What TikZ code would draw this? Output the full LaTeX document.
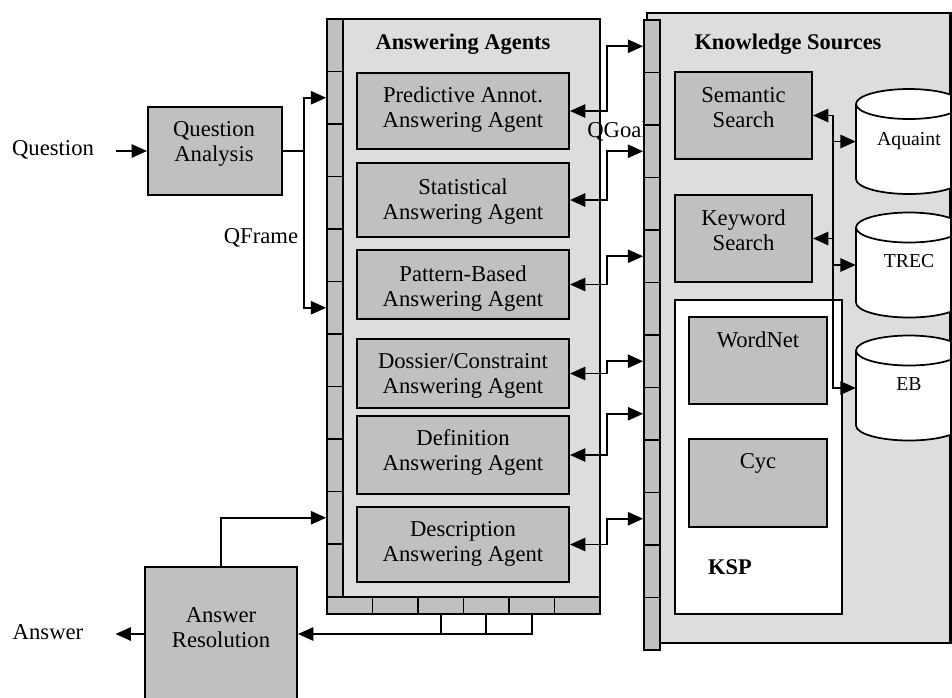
\documentclass[tikz,border=0pt]{standalone}
\usepackage{fontspec}
\setmainfont{Liberation Serif}
\usetikzlibrary{arrows.meta,fit}
\definecolor{panelgray}{HTML}{DDDDDD}
\definecolor{boxgray}{HTML}{C0C0C0}
\tikzset{
  tri/.tip={Triangle[length=11.5pt,width=10pt]},
  panel/.style={draw, line width=1.5pt, fill=panelgray, inner sep=0pt},
  box/.style={draw, line width=1.5pt, fill=boxgray, inner sep=0pt},
  cell/.style={draw, line width=1.3pt, fill=boxgray, inner sep=0pt},
  wbox/.style={draw, line width=1.5pt, fill=white, inner sep=0pt},
  txt/.style={inner sep=0pt, anchor=north, align=center},
  lbl/.style={inner sep=0pt, anchor=base},
  title/.style={inner sep=0pt, anchor=base, font=\fontsize{16.8}{18.75}\selectfont\bfseries},
  cyllbl/.style={inner sep=0pt, anchor=base, font=\fontsize{14.8}{17}\selectfont},
  cylnode/.style={inner sep=0pt, minimum width=79.5pt, minimum height=78.75pt},
  conn/.style={line width=1.3pt},
}
\newcommand\dbcyl[3]{%
  \begin{scope}[shift={(#1,#2)}, x=0.75pt, y=0.75pt]
    \filldraw[line width=1.3pt, fill=white] (-53,37.5) -- (-53,-37.5)
      arc[start angle=180, end angle=360, x radius=53, y radius=15]
      -- (53,37.5)
      arc[start angle=0, end angle=180, x radius=53, y radius=15] -- cycle;
    \draw[line width=1.3pt] (-53,37.5)
      arc[start angle=180, end angle=360, x radius=53, y radius=15];
  \end{scope}
  \node[cylnode] (#3) at (#1,#2) {};
}
\begin{document}
\begin{tikzpicture}[x=0.75pt, y=-0.75pt,
  every node/.style={font=\fontsize{17}{18.75}\selectfont}]
\useasboundingbox (0,0) rectangle (952,697);
\clip (0,0) rectangle (952,697);

% ---------- Answering Agents panel ----------
\node[panel, fit={(327,19) (600,614)}] (aa) {};
\foreach \i in {1,...,11}
  \node[cell, fit={(327,{19+52.5*(\i-1)}) (343,{19+52.5*\i})}] (aa\i) {};
\foreach \i in {1,...,6}
  \node[cell, fit={({327+45.5*(\i-1)},597) ({327+45.5*\i},614)}] (ab\i) {};
\node[title] (aat) at (463,49) {Answering Agents};

\node[box, fit={(357,73) (569,149)}] (pred) {};
\node[txt] (predt) at (463,87) {Predictive Annot.\\Answering Agent};
\node[box, fit={(357,163) (569,237)}] (stat) {};
\node[txt] (statt) at (463,178) {Statistical\\Answering Agent};
\node[box, fit={(357,250) (569,319)}] (pat) {};
\node[txt] (patt) at (463,265) {Pattern-Based\\Answering Agent};
\node[box, fit={(357,339) (569,408)}] (dos) {};
\node[txt] (dost) at (463,353) {Dossier/Constraint\\Answering Agent};
\node[box, fit={(357,416) (569,494)}] (def) {};
\node[txt] (deft) at (463,429) {Definition\\Answering Agent};
\node[box, fit={(357,507) (569,582)}] (desc) {};
\node[txt] (desct) at (463,521) {Description\\Answering Agent};

\node[inner sep=0pt, anchor=base west] (qgoal) at (587,137) {QGoal};

% ---------- Knowledge Sources panel ----------
\node[panel, fit={(647,13) (950,643)}] (ks) {};
\node[title] (kst) at (788,49) {Knowledge Sources};
\node[box, fit={(675,72) (812,159)}] (sem) {};
\node[txt] (semt) at (743.5,87) {Semantic\\Search};
\node[box, fit={(675,195) (812,282)}] (kw) {};
\node[txt] (kwt) at (743.5,209) {Keyword\\Search};
\node[wbox, fit={(675,300) (842,614)}] (ksp) {};
\node[box, fit={(689,317) (827,404)}] (wn) {};
\node[txt] (wnt) at (758,331) {WordNet};
\node[box, fit={(689,439) (827,527)}] (cyc) {};
\node[txt] (cyct) at (758,453) {Cyc};
\node[title] (kspt) at (730,574) {KSP};

\dbcyl{909}{141.5}{aq}
\node[cyllbl] (aqt) at (909,145) {Aquaint};
\dbcyl{909}{265}{trec}
\node[cyllbl] (trect) at (909,267) {TREC};
\dbcyl{909}{388}{eb}
\node[cyllbl] (ebt) at (909,390) {EB};
\draw[line width=1.5pt] (ks.north east) -- (ks.south east);

\foreach \i in {1,...,12}
  \node[cell, fit={(644,{20+52.5*(\i-1)}) (660,{20+52.5*\i})}] (ks\i) {};

% ---------- left side ----------
\node[lbl] (q) at (53,155) {Question};
\node[box, fit={(148,107) (282,195)}] (qa) {};
\node[txt] (qat) at (214,121) {Question\\Analysis};
\node[lbl] (qf) at (261,243) {QFrame};
\node[box, fit={(145,567) (297,701)}] (ar) {};
\node[txt] (art) at (221,607) {Answer\\Resolution};
\node[lbl] (ans) at (48,639) {Answer};

% ---------- connectors ----------
\coordinate (qbus) at (304,0);
\coordinate (abus) at (607,0);
\coordinate (kbus) at (833,0);

\draw[conn, -tri, shorten <=16.5pt] (q.east |- qa.west) -- (qa.west);
\draw[conn] (qa.east) -- (qa.east -| qbus);
\draw[conn, tri-tri] (aa2.west) -- (aa2.west -| qbus) -- (aa6.west -| qbus) -- (aa6.west);

\foreach \ag/\kk in {pred/1, stat/3, pat/5, dos/7, def/8, desc/10}
  \draw[conn, tri-tri] (\ag.east) -- (\ag.east -| abus) |- (ks\kk.west);

\draw[conn, tri-tri] (sem.east) -- (sem.east -| kbus) -- (eb.west -| kbus) -- (eb.west);
\draw[conn, -tri] (aq.west -| kbus) -- (aq.west);
\draw[conn, -tri] (trec.west -| kbus) -- (trec.west);
\draw[conn, -tri] (kw.east -| kbus) -- (kw.east);

\draw[conn, -tri] (ar.north) |- (aa10.west);
\draw[conn, -tri] (ab3.south) |- (ar.east);
\draw[conn] (ab4.south) -- (ab4.south |- ar.east);
\draw[conn] (ab5.south) |- (ab3.south |- ar.east);
\draw[conn, -tri, shorten >=24pt] (ar.west) -- (ans.east |- ar.west);
\end{tikzpicture}
\end{document}
